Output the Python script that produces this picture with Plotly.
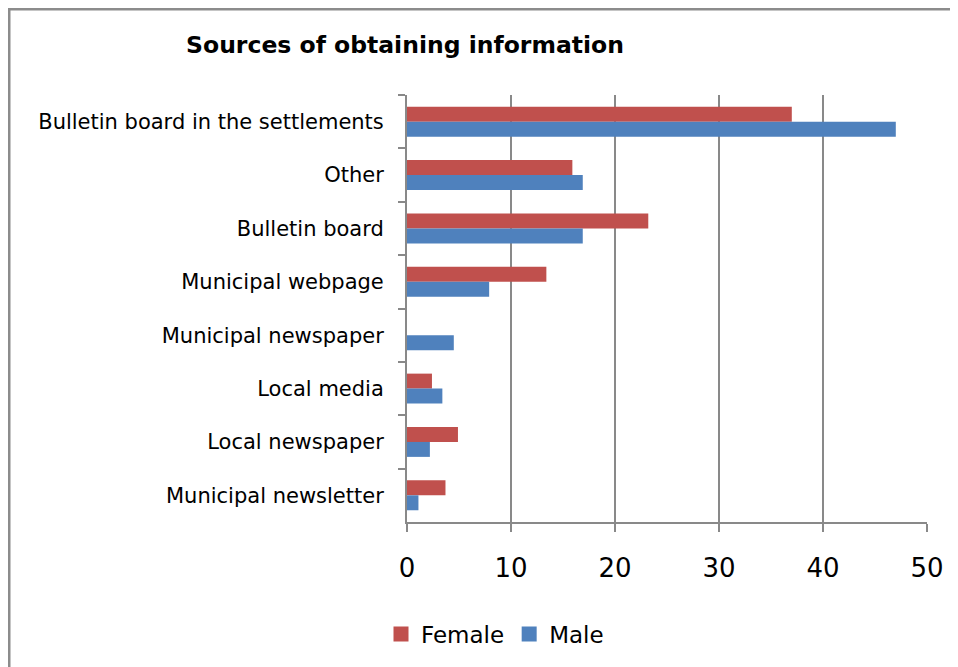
import plotly.graph_objects as go

categories = ["Bulletin board in the settlements", "Other", "Bulletin board",
              "Municipal webpage", "Municipal newspaper", "Local media",
              "Local newspaper", "Municipal newsletter"]
female = [37, 15.9, 23.2, 13.4, 0, 2.4, 4.9, 3.7]
male = [47, 16.9, 16.9, 7.9, 4.5, 3.4, 2.2, 1.1]
x_ticks = [0, 10, 20, 30, 40, 50]

# page has an 8px body margin, so work in shifted coordinates
OFF = 8
W, H = 958 - OFF, 667 - OFF
L, R, T, B = 407 - OFF, 927 - OFF, 95 - OFF, 522 - OFF
FONT = "DejaVu Sans"
GRID = "#898989"
C_F, C_M = "#C0504D", "#4F81BD"

fig = go.Figure()
fig.add_trace(go.Bar(y=categories, x=female, name="Female", orientation="h",
                     marker=dict(color=C_F, line=dict(width=0)), showlegend=False))
fig.add_trace(go.Bar(y=categories, x=male, name="Male", orientation="h",
                     marker=dict(color=C_M, line=dict(width=0)), showlegend=False))
# legend entries with larger square swatches
for name, col in [("Female", C_F), ("Male", C_M)]:
    fig.add_trace(go.Scatter(x=[None], y=[None], mode="markers", name=name,
                             marker=dict(symbol="square", size=15, color=col),
                             showlegend=True, hoverinfo="skip"))

fig.update_layout(
    width=W, height=H,
    margin=dict(l=L, r=W - R, t=T, b=H - B),
    paper_bgcolor="white", plot_bgcolor="white",
    barmode="group", bargap=0.44, bargroupgap=0,
    font=dict(family=FONT, color="black"),
    title=dict(text="<b>Sources of obtaining information</b>", x=(405 - OFF) / W, xanchor="center",
               y=1 - (45 - OFF) / H, yanchor="middle", font=dict(size=23.5, family=FONT)),
    showlegend=True,
    legend=dict(orientation="h", x=(495 - OFF) / W, xanchor="center", xref="container",
                y=1 - (634 - OFF) / H, yanchor="middle", yref="container",
                font=dict(size=23, family=FONT), itemwidth=30,
                traceorder="normal"),
    xaxis=dict(range=[0, 50], tickvals=x_ticks, showgrid=True, gridcolor=GRID, gridwidth=2,
               showline=True, linecolor=GRID, linewidth=2, ticks="outside", ticklen=8,
               tickcolor=GRID, tickwidth=2, tickfont=dict(size=26, family=FONT),
               zeroline=False, fixedrange=True, ticklabelstandoff=14),
    yaxis=dict(autorange="reversed", showline=True, linecolor=GRID, linewidth=2,
               ticks="outside", tickson="boundaries", ticklen=7, tickcolor=GRID, tickwidth=2,
               tickfont=dict(size=21, family=FONT), showgrid=False, fixedrange=True,
               ticklabelstandoff=17),
)

fig.add_shape(type="rect", xref="paper", yref="paper",
              x0=(1 - L) / (R - L), x1=(W + 20 - L) / (R - L),
              y0=-(H + 20 - B) / (B - T), y1=(B - 1) / (B - T),
              line=dict(color="#8C8C8C", width=3), fillcolor="rgba(0,0,0,0)", layer="below")

fig.write_html("out.html")
